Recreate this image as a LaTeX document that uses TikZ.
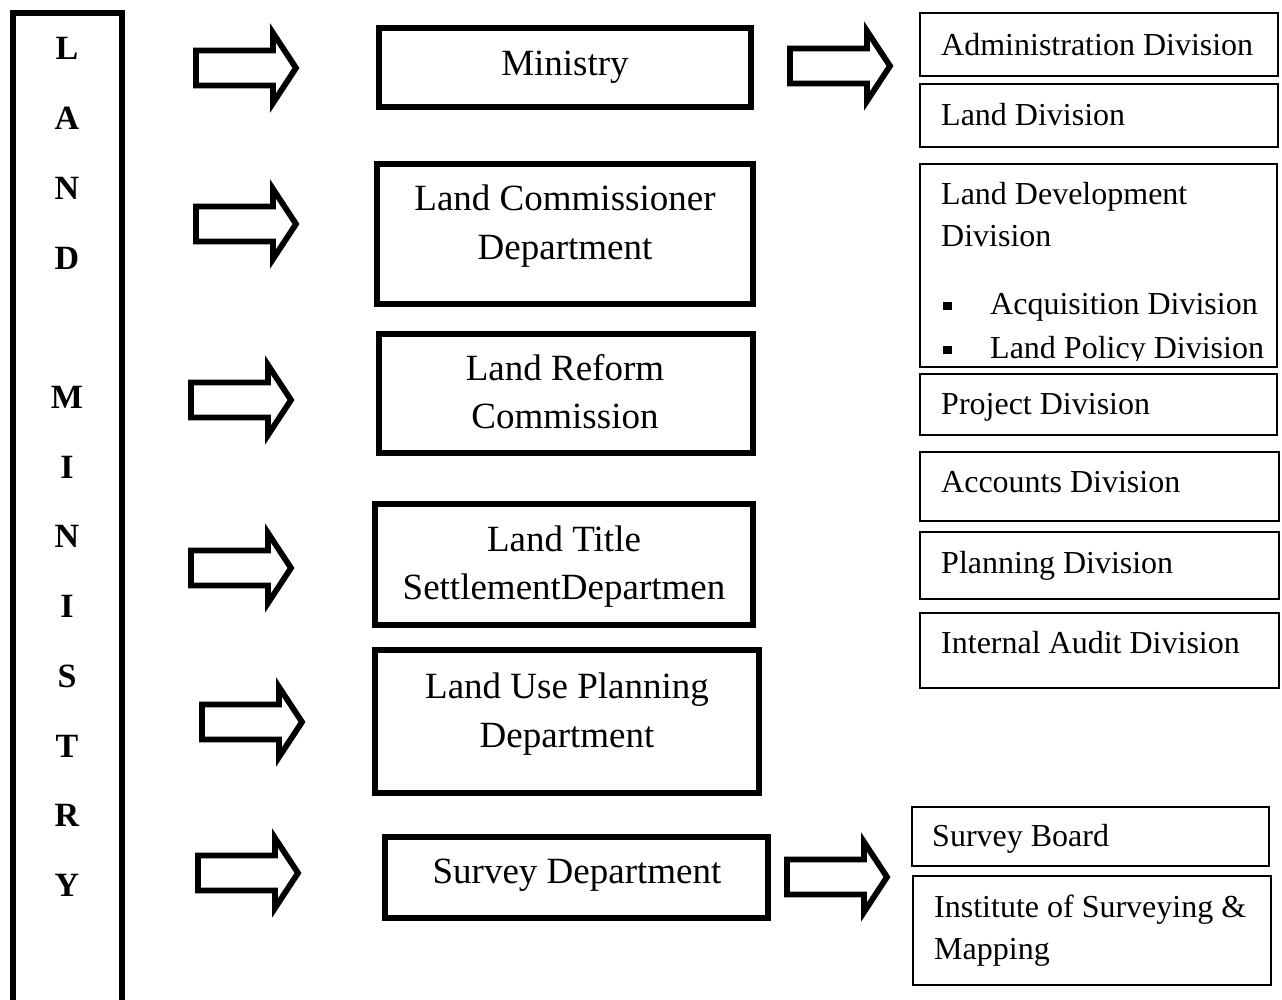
\documentclass[tikz,border=0pt]{standalone}
\usepackage{fontspec}
\setmainfont{Liberation Serif}
\usetikzlibrary{fit}
\begin{document}
\begin{tikzpicture}[x=1pt,y=-1pt,
  thickbox/.style={draw, line width=6pt, inner sep=0pt},
  thinbox/.style={draw, line width=1.8pt, inner sep=0pt},
  midtext/.style={anchor=base, inner sep=0pt, font=\fontsize{37}{48}\selectfont},
  divtext/.style={anchor=base west, inner sep=0pt, font=\fontsize{32}{42}\selectfont},
  lettertext/.style={anchor=base, inner sep=0pt, font=\fontsize{34}{40}\selectfont\bfseries},
  blockarrow/.pic={\draw[line width=5.8pt] (0,-17.5) -- (77,-17.5) -- (77,-35) -- (100,0)
      -- (77,35) -- (77,17.5) -- (0,17.5) -- cycle;}
]
\useasboundingbox (0,0) rectangle (1282,1000);

% tall column on the left
\node[thickbox, fit={(13,13) (122,1030)}] (landministry) {};
\foreach \ch/\k in {L/0, A/1, N/2, D/3, M/5, I/6, N/7, I/8, S/9, T/10, R/11, Y/12}
  \node[lettertext] (letter-\k) at (67,{60+69.7*\k}) {\ch};

% block arrows
\pic at (196,68)  {blockarrow};
\pic at (196,224) {blockarrow};
\pic at (191,400) {blockarrow};
\pic at (191,568) {blockarrow};
\pic at (202,722) {blockarrow};
\pic at (198,873) {blockarrow};
\pic at (790,66)  {blockarrow};
\pic at (787,877) {blockarrow};

% departments
\node[thickbox, fit={(379,28) (751,107)}]  (ministry) {};
\node[thickbox, fit={(377,164) (753,304)}] (landcomm) {};
\node[thickbox, fit={(379,334) (753,453)}] (landreform) {};
\node[thickbox, fit={(375,504) (753,625)}] (landtitle) {};
\node[thickbox, fit={(375,650) (759,793)}] (landuse) {};
\node[thickbox, fit={(385,837) (768,918)}] (survey) {};

\node[midtext] (ministry-t)   at (565,76)  {Ministry};
\node[midtext] (landcomm-t1)  at (565,211) {Land Commissioner};
\node[midtext] (landcomm-t2)  at (565,260) {Department};
\node[midtext] (landreform-t1) at (565,380) {Land Reform};
\node[midtext] (landreform-t2) at (565,428) {Commission};
\node[midtext] (landtitle-t1) at (564,551) {Land Title};
\node[midtext] (landtitle-t2) at (564,599) {SettlementDepartmen};
\node[midtext] (landuse-t1)   at (567,698) {Land Use Planning};
\node[midtext] (landuse-t2)   at (567,747) {Department};
\node[midtext] (survey-t)     at (577,883) {Survey Department};

% divisions
\node[thinbox, fit={(920,13) (1278,76)}]   (admin) {};
\node[thinbox, fit={(920,84) (1278,147)}]  (landdiv) {};
\node[thinbox, fit={(920,164) (1277,367)}] (landdev) {};
\node[thinbox, fit={(920,374) (1277,435)}] (project) {};
\node[thinbox, fit={(920,452) (1279,521)}] (accounts) {};
\node[thinbox, fit={(920,532) (1279,599)}] (planning) {};
\node[thinbox, fit={(920,613) (1279,688)}] (audit) {};
\node[thinbox, fit={(912,807) (1269,866)}] (surveyboard) {};
\node[thinbox, fit={(913,876) (1271,985)}] (institute) {};

\node[divtext] (admin-t)    at (941,56)  {Administration Division};
\node[divtext] (landdiv-t)  at (941,126) {Land Division};
\begin{scope}
  \clip (921,165) rectangle (1276,360.5);
  \node[divtext] (landdev-t1) at (941,205) {Land Development};
  \node[divtext] (landdev-t2) at (941,247) {Division};
  \fill (943,302) rectangle (952,310);
  \fill (943,346) rectangle (952,354);
  \node[divtext] (acq-t)    at (990,315) {Acquisition Division};
  \node[divtext] (policy-t) at (990,358.5) {Land Policy Division};
\end{scope}
\node[divtext] (project-t)  at (941,414) {Project Division};
\node[divtext] (accounts-t) at (941,492) {Accounts Division};
\node[divtext] (planning-t) at (941,573) {Planning Division};
\node[divtext] (audit-t)    at (941,653) {Internal Audit Division};
\node[divtext] (surveyboard-t) at (932,846) {Survey Board};
\node[divtext] (institute-t1)  at (934,917) {Institute of Surveying \&};
\node[divtext] (institute-t2)  at (934,959) {Mapping};
\end{tikzpicture}
\end{document}
